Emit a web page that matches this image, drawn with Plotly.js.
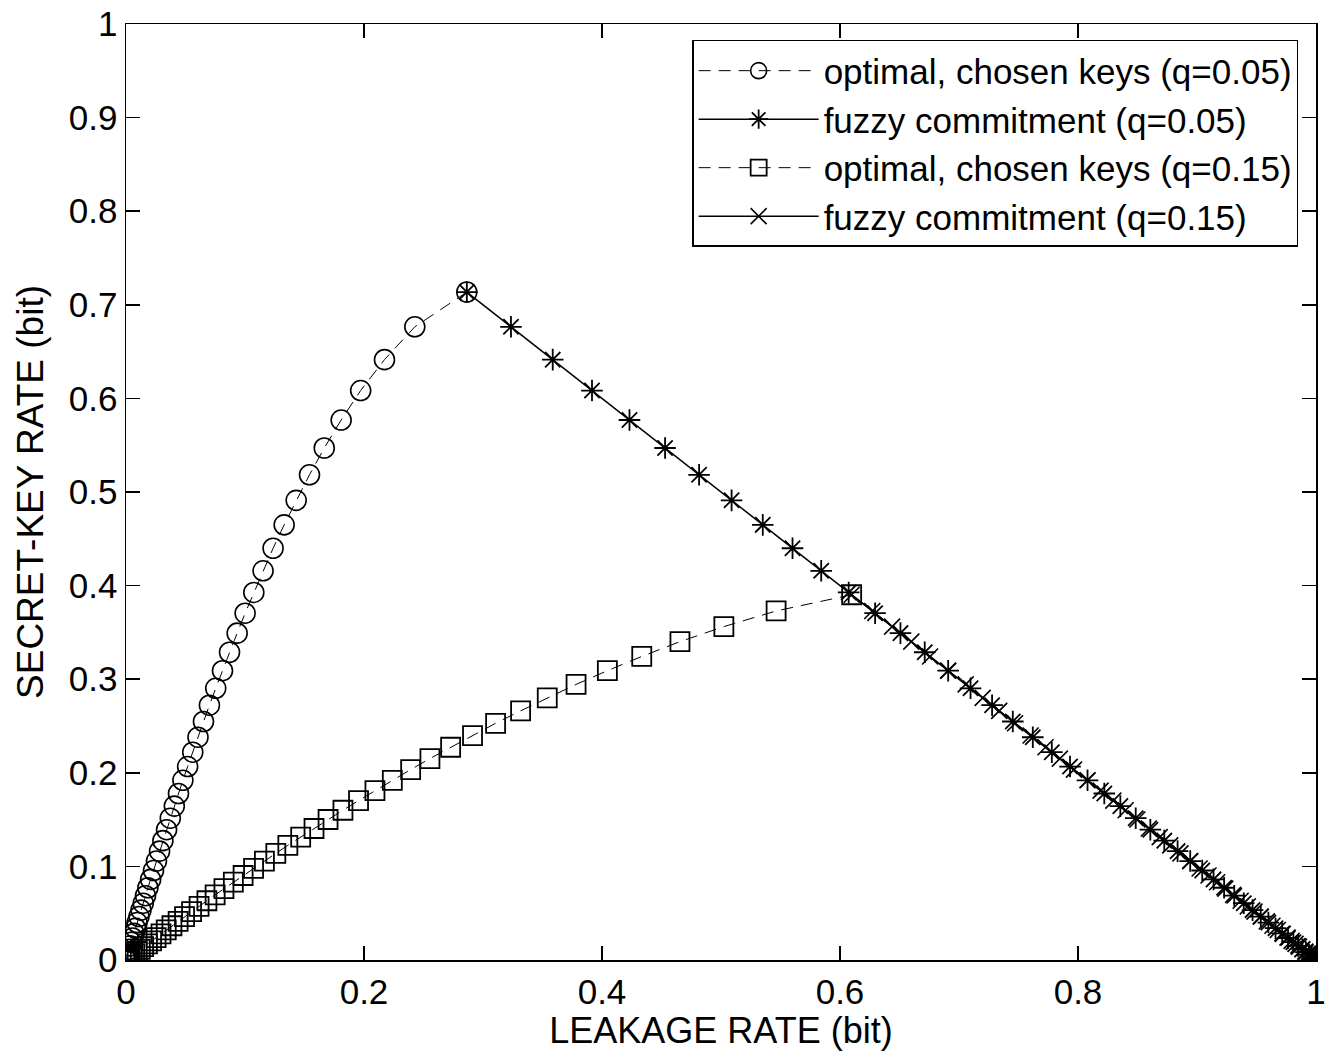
<!DOCTYPE html>
<html>
<head>
<meta charset="utf-8">
<script src="https://cdn.plot.ly/plotly-3.0.1.min.js"></script>
<style>html,body{margin:0;padding:0;background:#fff;}#chart{width:1326px;height:1057px;}</style>
</head>
<body>
<div id="chart"></div>
<script>
// Leakage (x) and secret-key rate (y)
// optimal, chosen keys (q=0.05)
const optQ05Leak = [0.2864,0.2427,0.2172,0.1972,0.1808,0.1666,0.1542,0.1430,0.1329,0.1236,0.1152,0.1074,0.1001,0.0934,0.0870,0.0811,0.0754,0.0701,0.0651,0.0605,0.0561,0.0518,0.0478,0.0441,0.0406,0.0372,0.0341,0.0310,0.0282,0.0256,0.0231,0.0207,0.0184,0.0164,0.0145,0.0126,0.0109,0.0093,0.0080,0.0068,0.0055,0.0045,0.0034,0.0027,0.0019,0.0013,0.0008,0.0004,0.0002,0.0001,0];
const optQ05Rate = [0.7136,0.6765,0.6414,0.6084,0.5769,0.5470,0.5184,0.4911,0.4649,0.4399,0.4158,0.3927,0.3705,0.3492,0.3288,0.3091,0.2903,0.2722,0.2548,0.2380,0.2220,0.2067,0.1920,0.1779,0.1644,0.1515,0.1392,0.1275,0.1163,0.1057,0.0956,0.0861,0.0772,0.0687,0.0607,0.0533,0.0464,0.0400,0.0340,0.0284,0.0235,0.0190,0.0151,0.0115,0.0085,0.0059,0.0038,0.0022,0.0010,0.0002,0];
// fuzzy commitment (q=0.05)
const fuzQ05Leak = [0.2864,0.3235,0.3586,0.3916,0.4231,0.4530,0.4816,0.5089,0.5351,0.5601,0.5842,0.6073,0.6295,0.6508,0.6712,0.6909,0.7097,0.7278,0.7452,0.7620,0.7780,0.7933,0.8080,0.8221,0.8356,0.8485,0.8608,0.8725,0.8837,0.8943,0.9044,0.9139,0.9228,0.9313,0.9393,0.9467,0.9536,0.9600,0.9660,0.9716,0.9765,0.9810,0.9849,0.9885,0.9915,0.9941,0.9962,0.9978,0.9990,0.9998,1];
const fuzQ05Rate = [0.7136,0.6765,0.6414,0.6084,0.5769,0.5470,0.5184,0.4911,0.4649,0.4399,0.4158,0.3927,0.3705,0.3492,0.3288,0.3091,0.2903,0.2722,0.2548,0.2380,0.2220,0.2067,0.1920,0.1779,0.1644,0.1515,0.1392,0.1275,0.1163,0.1057,0.0956,0.0861,0.0772,0.0687,0.0607,0.0533,0.0464,0.0400,0.0340,0.0284,0.0235,0.0190,0.0151,0.0115,0.0085,0.0059,0.0038,0.0022,0.0010,0.0002,0];
// optimal, chosen keys (q=0.15)
const optQ15Leak = [0.6098,0.5463,0.5024,0.4655,0.4334,0.4045,0.3782,0.3540,0.3316,0.3106,0.2912,0.2728,0.2554,0.2392,0.2238,0.2092,0.1954,0.1823,0.1698,0.1580,0.1468,0.1360,0.1259,0.1163,0.1072,0.0984,0.0902,0.0823,0.0749,0.0680,0.0614,0.0551,0.0492,0.0438,0.0386,0.0338,0.0294,0.0253,0.0215,0.0180,0.0148,0.0120,0.0094,0.0073,0.0053,0.0036,0.0023,0.0013,0.0006,0.0002,0];
const optQ15Rate = [0.3902,0.3729,0.3562,0.3401,0.3243,0.3091,0.2944,0.2801,0.2662,0.2529,0.2398,0.2273,0.2152,0.2034,0.1920,0.1810,0.1703,0.1600,0.1501,0.1405,0.1313,0.1225,0.1139,0.1057,0.0978,0.0903,0.0831,0.0762,0.0696,0.0633,0.0573,0.0517,0.0464,0.0413,0.0366,0.0321,0.0279,0.0240,0.0205,0.0172,0.0142,0.0115,0.0091,0.0069,0.0051,0.0036,0.0023,0.0013,0.0006,0.0001,0];
// fuzzy commitment (q=0.15)
const fuzQ15Leak = [0.6098,0.6271,0.6438,0.6599,0.6757,0.6909,0.7056,0.7199,0.7338,0.7471,0.7602,0.7727,0.7848,0.7966,0.8080,0.8190,0.8297,0.8400,0.8499,0.8595,0.8687,0.8775,0.8861,0.8943,0.9022,0.9097,0.9169,0.9238,0.9304,0.9367,0.9427,0.9483,0.9536,0.9587,0.9634,0.9679,0.9721,0.9760,0.9795,0.9828,0.9858,0.9885,0.9909,0.9931,0.9949,0.9964,0.9977,0.9987,0.9994,0.9999,1];
const fuzQ15Rate = [0.3902,0.3729,0.3562,0.3401,0.3243,0.3091,0.2944,0.2801,0.2662,0.2529,0.2398,0.2273,0.2152,0.2034,0.1920,0.1810,0.1703,0.1600,0.1501,0.1405,0.1313,0.1225,0.1139,0.1057,0.0978,0.0903,0.0831,0.0762,0.0696,0.0633,0.0573,0.0517,0.0464,0.0413,0.0366,0.0321,0.0279,0.0240,0.0205,0.0172,0.0142,0.0115,0.0091,0.0069,0.0051,0.0036,0.0023,0.0013,0.0006,0.0001,0];

const seriesNames = ['optimal, chosen keys (q=0.05)','fuzzy commitment (q=0.05)','optimal, chosen keys (q=0.15)','fuzzy commitment (q=0.15)'];
const xTickVals = [0,0.2,0.4,0.6,0.8,1];
const xTickText = ['0','0.2','0.4','0.6','0.8','1'];
const yTickVals = [0,0.1,0.2,0.3,0.4,0.5,0.6,0.7,0.8,0.9,1];
const yTickText = ['0','0.1','0.2','0.3','0.4','0.5','0.6','0.7','0.8','0.9','1'];

const FONT = 'Liberation Sans, Arial, Helvetica, sans-serif';
const FS = 35;

const traces = [
  {x: optQ05Leak, y: optQ05Rate, name: seriesNames[0], type: 'scatter', mode: 'lines+markers',
   line: {color: '#000', width: 1, dash: '12px,8px'},
   marker: {symbol: 'circle-open', size: 20, color: '#000', line: {width: 1.6, color: '#000'}}},
  {x: fuzQ05Leak, y: fuzQ05Rate, name: seriesNames[1], type: 'scatter', mode: 'lines+markers',
   line: {color: '#000', width: 1.5},
   marker: {symbol: 'asterisk-open', size: 18, color: '#000', line: {width: 1.8, color: '#000'}}},
  {x: optQ15Leak, y: optQ15Rate, name: seriesNames[2], type: 'scatter', mode: 'lines+markers',
   line: {color: '#000', width: 1, dash: '12px,8px'},
   marker: {symbol: 'square-open', size: 19, color: '#000', line: {width: 1.8, color: '#000'}}},
  {x: fuzQ15Leak, y: fuzQ15Rate, name: seriesNames[3], type: 'scatter', mode: 'lines+markers',
   line: {color: '#000', width: 1.5},
   marker: {symbol: 'x-thin-open', size: 16, color: '#000', line: {width: 1.6, color: '#000'}}}
];

const axisCommon = {
  showgrid: false, zeroline: false, showline: true, linecolor: '#000', linewidth: 1.5,
  mirror: 'ticks', ticks: 'inside', ticklen: 14, tickwidth: 1.5, tickcolor: '#000',
  tickfont: {family: FONT, size: FS, color: '#000'}, automargin: false, fixedrange: true
};

const layout = {
  width: 1326, height: 1057,
  margin: {l: 126, r: 10, t: 24, b: 97, pad: 0},
  paper_bgcolor: '#fff', plot_bgcolor: '#fff',
  font: {family: FONT, size: FS, color: '#000'},
  showlegend: true,
  xaxis: Object.assign({}, axisCommon, {
    range: [0, 1], tickvals: xTickVals, ticktext: xTickText,
    title: {text: 'LEAKAGE RATE (bit)', font: {family: FONT, size: 36, color: '#000'}, standoff: 3}
  }),
  yaxis: Object.assign({}, axisCommon, {
    range: [0, 1], tickvals: yTickVals, ticktext: yTickText,
    title: {text: 'SECRET-KEY RATE (bit)', font: {family: FONT, size: 37, color: '#000'}, standoff: 14}
  }),
  legend: {
    x: 0.985, y: 0.983, xanchor: 'right', yanchor: 'top',
    bgcolor: '#fff', bordercolor: '#000', borderwidth: 1.5,
    font: {family: FONT, size: FS, color: '#000'},
    itemwidth: 120, tracegroupgap: 0, traceorder: 'normal'
  }
};

Plotly.newPlot('chart', traces, layout, {displayModeBar: false, staticPlot: true});
</script>
</body>
</html>
